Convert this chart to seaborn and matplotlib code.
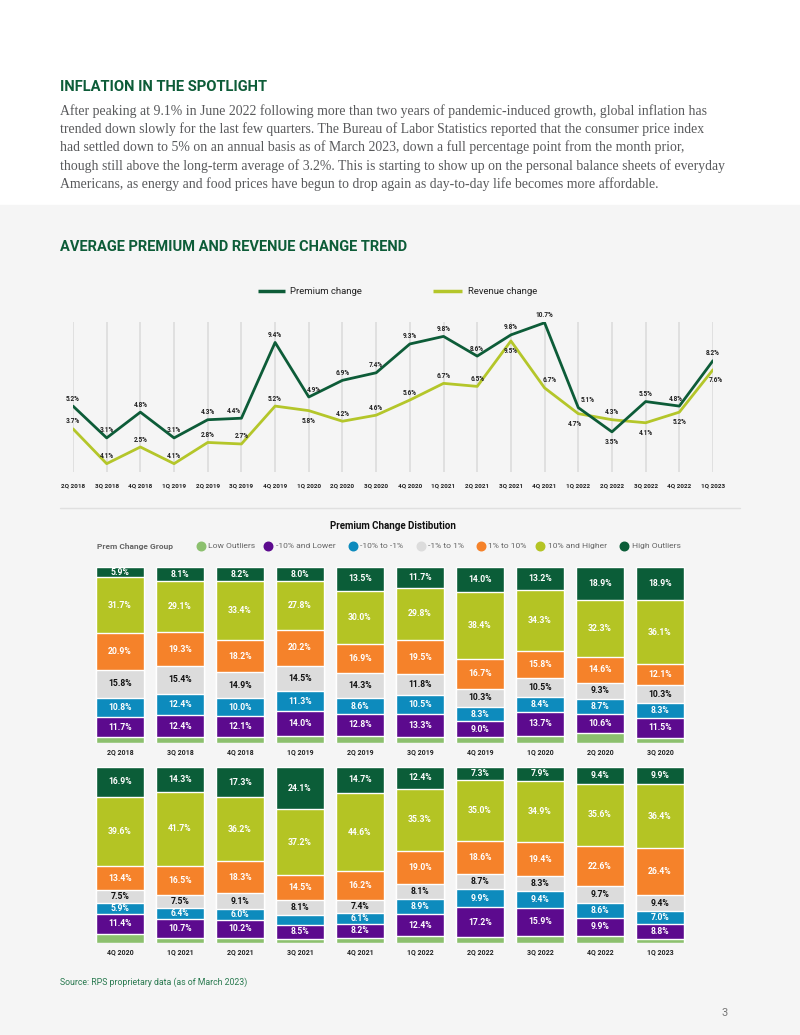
import numpy as np
import pandas as pd
import matplotlib
matplotlib.use('Agg')
import matplotlib.pyplot as plt
from matplotlib.patches import Rectangle
import seaborn as sns

#%% data
quarters = ['2Q 2018', '3Q 2018', '4Q 2018', '1Q 2019', '2Q 2019', '3Q 2019', '4Q 2019',
            '1Q 2020', '2Q 2020', '3Q 2020', '4Q 2020', '1Q 2021', '2Q 2021', '3Q 2021',
            '4Q 2021', '1Q 2022', '2Q 2022', '3Q 2022', '4Q 2022', '1Q 2023']

# values as plotted, and the labels as printed on the chart
premium_change = [5.2, 3.1, 4.8, 3.1, 4.3, 4.4, 9.4, 5.8, 6.9, 7.4,
                  9.3, 9.8, 8.5, 9.9, 10.7, 5.1, 3.5, 5.5, 5.2, 8.2]
revenue_change = [3.7, 1.4, 2.5, 1.4, 2.8, 2.7, 5.2, 4.9, 4.2, 4.6,
                  5.6, 6.7, 6.5, 9.5, 6.4, 4.7, 4.3, 4.1, 4.8, 7.6]
premium_labels = ['5.2', '3.1', '4.8', '3.1', '4.3', '4.4', '9.4', '4.9', '6.9', '7.4',
                  '9.3', '9.8', '8.6', '9.8', '10.7', '5.1', '3.5', '5.5', '4.8', '8.2']
revenue_labels = ['3.7', '4.1', '2.5', '4.1', '2.8', '2.7', '5.2', '5.8', '4.2', '4.6',
                  '5.6', '6.7', '6.5', '9.5', '6.7', '4.7', '4.3', '4.1', '5.2', '7.6']

groups = ['Low Outliers', '-10% and Lower', '-10% to -1%', '-1% to 1%',
          '1% to 10%', '10% and Higher', 'High Outliers']
low_outliers = [3.2, 3.3, 3.2, 4.2, 3.9, 3.4, 3.3, 4.1, 5.6, 2.8,
                5.3, 2.9, 2.9, 2.0, 2.8, 3.9, 3.3, 4.2, 4.2, 2.1]
minus10_and_lower = [11.7, 12.4, 12.1, 14.0, 12.8, 13.3, 9.0, 13.7, 10.6, 11.5,
                     11.4, 10.7, 10.2, 8.5, 8.2, 12.4, 17.2, 15.9, 9.9, 8.8]
minus10_to_minus1 = [10.8, 12.4, 10.0, 11.3, 8.6, 10.5, 8.3, 8.4, 8.7, 8.3,
                     5.9, 6.4, 6.0, 5.6, 6.1, 8.9, 9.9, 9.4, 8.6, 7.0]
minus1_to_1 = [15.8, 15.4, 14.9, 14.5, 14.3, 11.8, 10.3, 10.5, 9.3, 10.3,
               7.5, 7.5, 9.1, 8.1, 7.4, 8.1, 8.7, 8.3, 9.7, 9.4]
one_to_ten = [20.9, 19.3, 18.2, 20.2, 16.9, 19.5, 16.7, 15.8, 14.6, 12.1,
              13.4, 16.5, 18.3, 14.5, 16.2, 19.0, 18.6, 19.4, 22.6, 26.4]
ten_and_higher = [31.7, 29.1, 33.4, 27.8, 30.0, 29.8, 38.4, 34.3, 32.3, 36.1,
                  39.6, 41.7, 36.2, 37.2, 44.6, 35.3, 35.0, 34.9, 35.6, 36.4]
high_outliers = [5.9, 8.1, 8.2, 8.0, 13.5, 11.7, 14.0, 13.2, 18.9, 18.9,
                 16.9, 14.3, 17.3, 24.1, 14.7, 12.4, 7.3, 7.9, 9.4, 9.9]

#%% styling
sns.set_style('white')
plt.rcParams['font.family'] = ['Roboto', 'DejaVu Sans']

DARK = '#0d5c38'
LIME = '#b4c62a'
group_colors = ['#8cc06e', '#5c0a8e', '#0d8bbd', '#dcdcdc', '#f5822a', '#b4c424', '#0b5d38']
BG = '#f5f5f5'
TEXT_GRAY = '#58595b'

dist = pd.DataFrame({'quarter': quarters})
for g, vals in zip(groups, [low_outliers, minus10_and_lower, minus10_to_minus1, minus1_to_1,
                            one_to_ten, ten_and_higher, high_outliers]):
    dist[g] = vals

W, H = 800, 1035
fig = plt.figure(figsize=(W / 100, H / 100), dpi=100)
fig.patch.set_facecolor('white')

# page layer in pixel coordinates
page = fig.add_axes([0, 0, 1, 1])
page.set_xlim(0, W)
page.set_ylim(H, 0)
page.axis('off')
page.add_patch(Rectangle((0, 205), W, H - 205, color=BG, zorder=0))

def fig_rect(x0, y0, x1, y1):
    return [x0 / W, 1 - y1 / H, (x1 - x0) / W, (y1 - y0) / H]

#%% header text
page.text(60, 87, 'INFLATION IN THE SPOTLIGHT', color=DARK, fontsize=10.6,
          fontweight='bold', va='center')
para = ['After peaking at 9.1% in June 2022 following more than two years of pandemic-induced growth, global inflation has',
        'trended down slowly for the last few quarters. The Bureau of Labor Statistics reported that the consumer price index',
        'had settled down to 5% on an annual basis as of March 2023, down a full percentage point from the month prior,',
        'though still above the long-term average of 3.2%. This is starting to show up on the personal balance sheets of everyday',
        'Americans, as energy and food prices have begun to drop again as day-to-day life becomes more affordable.']
for i, line in enumerate(para):
    page.text(60, 111 + i * 18.3, line, color=TEXT_GRAY, fontsize=9.95,
              family=['Liberation Serif', 'DejaVu Serif'], va='center')

page.text(60, 247, 'AVERAGE PREMIUM AND REVENUE CHANGE TREND', color=DARK, fontsize=10.5,
          fontweight='bold', va='center')

# line legend
page.plot([258, 285], [291, 291], color=DARK, lw=2.5, solid_capstyle='butt')
page.text(290, 291, 'Premium change', fontsize=6.8, color='#222222', va='center')
page.plot([433, 462], [291, 291], color=LIME, lw=2.5, solid_capstyle='butt')
page.text(468, 291, 'Revenue change', fontsize=6.8, color='#222222', va='center')

#%% line chart
ax1 = fig.add_axes(fig_rect(73, 322, 713, 472))
ax1.set_facecolor('none')
xpos = np.arange(len(quarters))
sns.lineplot(x=xpos, y=premium_change, ax=ax1, color=DARK, linewidth=2.0, zorder=3)
sns.lineplot(x=xpos, y=revenue_change, ax=ax1, color=LIME, linewidth=2.0, zorder=2)
ax1.set_xlim(0, 19)
ax1.set_ylim(0.85, 10.75)
ax1.set_xticks(xpos)
ax1.set_xticklabels(quarters, fontsize=4.6, fontweight='bold', color='#222222')
ax1.set_yticks([])
ax1.tick_params(axis='x', length=0, pad=8.5)
ax1.grid(axis='x', color='#dedede', lw=1.3)
ax1.grid(axis='y', visible=False)
sns.despine(ax=ax1, left=True, bottom=True)

prem_below = {16}
prem_dx = {5: -8, 7: 5, 15: 9, 18: -4}
rev_below = {7, 13, 15, 17, 18, 19}
rev_dx = {14: 5, 15: -3, 19: 3}
for i in xpos:
    dy = -10 if i in prem_below else 7.5
    ax1.annotate(premium_labels[i] + '%', (i, premium_change[i]),
                 xytext=(prem_dx.get(i, 0) * 0.72, dy * 0.72), textcoords='offset points',
                 ha='center', va='center', fontsize=4.7, fontweight='bold', color='#222222',
                 annotation_clip=False)
    dy = -10 if i in rev_below else 7.5
    ax1.annotate(revenue_labels[i] + '%', (i, revenue_change[i]),
                 xytext=(rev_dx.get(i, 0) * 0.72, dy * 0.72), textcoords='offset points',
                 ha='center', va='center', fontsize=4.7, fontweight='bold', color='#222222',
                 annotation_clip=False)

page.plot([60, 740], [508, 508], color='#e0e0e0', lw=1)

#%% distribution chart title + legend
page.text(393, 526, 'Premium Change Distibution', fontsize=7, fontweight='bold',
          color='#111111', ha='center', va='center')
page.text(97, 546, 'Prem Change Group', fontsize=6, fontweight='bold', color='#666666', va='center')
legend_x = [201, 268, 353, 421, 481, 540, 624]
for x, g, c in zip(legend_x, groups, group_colors):
    page.scatter([x], [546], s=38, color=c, zorder=3)
    page.text(x + 7.5, 546, g, fontsize=6.1, color='#666666', va='center')

#%% stacked bars
unlabeled = {('-10% to -1%', '3Q 2021')}

def stacked_panel(rows, y0, y1):
    ax = fig.add_axes(fig_rect(90, y0, 690, y1))
    ax.set_facecolor('none')
    qs = list(rows['quarter'])
    cum = rows[groups].cumsum(axis=1)
    # draw tallest cumulative first so each lower layer covers it
    for g, c in reversed(list(zip(groups, group_colors))):
        sns.barplot(x=qs, y=cum[g].values, order=qs, color=c, width=0.79,
                    saturation=1, errorbar=None, ax=ax)
    ax.set_xlim(-0.5, len(qs) - 0.5)
    ax.set_ylim(0, 100)
    ax.set_yticks([])
    ax.set_ylabel('')
    ax.tick_params(axis='x', length=0, pad=4)
    for lab in ax.get_xticklabels():
        lab.set_fontsize(5)
        lab.set_fontweight('bold')
        lab.set_color('#222222')
    sns.despine(ax=ax, left=True, bottom=True)
    for j, q in enumerate(qs):
        below = 0
        for g in groups:
            v = rows[g].iloc[j]
            if g != 'Low Outliers' and (g, q) not in unlabeled:
                ax.text(j, below + v / 2, f'{v:.1f}%', ha='center', va='center',
                        fontsize=6.2, fontweight='bold',
                        color='#111111' if g == '-1% to 1%' else 'white')
            below += v
    return ax

stacked_panel(dist.iloc[:10].reset_index(drop=True), 567, 743)
stacked_panel(dist.iloc[10:].reset_index(drop=True), 767, 943)

#%% footer
page.text(60, 982, 'Source: RPS proprietary data (as of March 2023)', fontsize=6.3,
          color='#2a7a50', va='center')
page.text(725, 1013, '3', fontsize=8, color='#777777', ha='center', va='center')

fig.savefig('out.png', dpi=100, facecolor=fig.get_facecolor())
